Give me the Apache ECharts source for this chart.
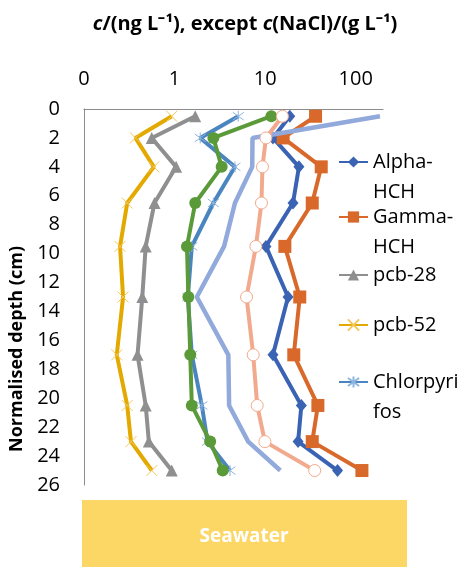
<!DOCTYPE html>
<html>
<head>
<meta charset="utf-8">
<script src="https://cdn.jsdelivr.net/npm/echarts@6/dist/echarts.min.js"></script>
<style>
html,body{margin:0;padding:0;background:#fff;}
#chart{width:464px;height:567px;}
</style>
</head>
<body>
<div id="chart"></div>
<script>
// Normalised depth (cm) of each sample
var depths = [0.5, 2, 4, 6.5, 9.5, 13, 17, 20.5, 23, 25];
// concentrations (ng/L), NaCl in g/L
var alphaHCH = [18.7, 12.2, 23.6, 20.3, 10.2, 17.9, 12.2, 25.1, 23.1, 63];
var gammaHCH = [36, 15.8, 41.6, 33.1, 16.5, 24.1, 20.7, 38.2, 33.1, 117];
var pcb28 = [1.69, 0.56, 1.04, 0.60, 0.48, 0.44, 0.39, 0.48, 0.52, 0.93];
var pcb52 = [0.93, 0.37, 0.59, 0.30, 0.25, 0.27, 0.23, 0.30, 0.33, 0.56];
var chlorpyrifos = [5.05, 1.92, 4.64, 2.68, 1.55, 1.40, 1.55, 2.0, 2.31, 4.09];
var series6 = [11.7, 2.68, 3.31, 1.69, 1.37, 1.42, 1.49, 1.55, 2.47, 3.40];
var series7 = [185, 7.25, 7.2, 4.64, 3.52, 1.76, 3.92, 4.0, 6.5, 14.7];
var nacl = [15.5, 10.2, 9.34, 9.1, 7.9, 6.23, 7.38, 8.17, 9.93, 35.2];

var xTicks = [0.1, 1, 10, 100];
var yTicks = [0, 2, 4, 6, 8, 10, 12, 14, 16, 18, 20, 22, 24, 26];
var legendNames = ['Alpha-HCH', 'Gamma-HCH', 'pcb-28', 'pcb-52', 'Chlorpyrifos'];
var legendLabels = {'Alpha-HCH': 'Alpha-\nHCH', 'Gamma-HCH': 'Gamma-\nHCH', 'pcb-28': 'pcb-28', 'pcb-52': 'pcb-52', 'Chlorpyrifos': 'Chlorpyri\nfos'};

var FONT = '"Open Sans", sans-serif';

function pairs(vals) {
  return vals.map(function (v, i) { return [v, depths[i]]; });
}

function mk(name, vals, color, symbol, size, opts) {
  opts = opts || {};
  return {
    name: name,
    type: 'line',
    data: pairs(vals),
    symbol: symbol,
    symbolSize: size,
    showSymbol: true,
    lineStyle: {color: color, width: opts.width || 4},
    itemStyle: {
      color: opts.fill || color,
      borderColor: opts.border || color,
      borderWidth: opts.borderWidth != null ? opts.borderWidth : 0
    },
    emphasis: {disabled: true},
    z: opts.z || 2
  };
}

var cols = {
  alpha: '#3A63B3', gamma: '#D8692B', pcb28: '#8F8F8F', pcb52: '#E3A900',
  chlor: '#4A85BF', s6: '#5A9A39', s7: '#92A9DC', nacl: '#F2AA8E'
};

var xPath = 'path://M0,0L10,10M10,0L0,10';
var starPath = 'path://M0,0L10,10M10,0L0,10M5,-2L5,12';
var dashPath = 'path://M0,5L10,5';

// icon centre y for each legend entry
var legendIconY = [162, 217, 275, 325, 382];
var legends = legendNames.map(function (n, i) {
  var two = legendLabels[n].indexOf('\n') >= 0;
  return {
    left: 338,
    top: legendIconY[i] - (two ? 45 : 15),
    orient: 'vertical',
    itemWidth: 29,
    itemHeight: 14,
    itemGap: 0,
    padding: 0,
    selectedMode: false,
    data: [n],
    formatter: function (name) {
      var t = legendLabels[name];
      return t.indexOf('\n') >= 0 ? '\u00A0\n' + t : t;
    },
    textStyle: {fontFamily: FONT, fontSize: 20, lineHeight: 30, color: '#000'}
  };
});

var option = {
  animation: false,
  backgroundColor: '#fff',
  title: {
    text: '{i|c}/(ng L\u207B\u00B9), except {i|c}(NaCl)/(g L\u207B\u00B9)',
    left: 240,
    textAlign: 'center',
    top: 9,
    textStyle: {
      fontFamily: FONT, fontSize: 20, fontWeight: 'bold', color: '#000',
      rich: {i: {fontFamily: FONT, fontSize: 20, fontWeight: 'bold', fontStyle: 'italic', color: '#000'}}
    }
  },
  legend: legends,
  grid: {left: 80, right: 81, top: 109, bottom: 82, containLabel: false},
  xAxis: {
    type: 'log',
    logBase: 10,
    position: 'top',
    min: 0.1,
    max: 200,
    axisLine: {show: true, lineStyle: {color: '#8C8C8C', width: 1}},
    axisTick: {show: false},
    splitLine: {show: false},
    axisLabel: {
      fontFamily: FONT, fontSize: 20, color: '#000', margin: 20,
      showMaxLabel: false,
      formatter: function (v) {
        for (var k = 0; k < xTicks.length; k++) {
          if (Math.abs(v - xTicks[k]) / xTicks[k] < 1e-6) return String(Math.round(xTicks[k]));
        }
        return '';
      }
    }
  },
  yAxis: {
    type: 'value',
    inverse: true,
    min: yTicks[0],
    max: yTicks[yTicks.length - 1],
    interval: 2,
    name: 'Normalised depth (cm)',
    nameLocation: 'middle',
    nameGap: 58,
    nameTextStyle: {fontFamily: FONT, fontSize: 18, fontWeight: 'bold', color: '#000', padding: [0, 104, 0, 0]},
    axisLine: {show: true, lineStyle: {color: '#8C8C8C', width: 1}},
    axisTick: {show: false},
    splitLine: {show: false},
    axisLabel: {fontFamily: FONT, fontSize: 20, color: '#000', margin: 24}
  },
  series: [
    mk('Alpha-HCH', alphaHCH, cols.alpha, 'diamond', [11, 13], {z: 2}),
    mk('Gamma-HCH', gammaHCH, cols.gamma, 'rect', 13, {z: 3}),
    mk('pcb-28', pcb28, cols.pcb28, 'triangle', 12, {z: 4}),
    mk('pcb-52', pcb52, cols.pcb52, xPath, 11, {z: 5, fill: 'none', border: '#F3C85A', borderWidth: 1}),
    mk('Chlorpyrifos', chlorpyrifos, cols.chlor, starPath, 11, {z: 6, fill: 'none', border: '#8DB5E0', borderWidth: 1}),
    mk('Series 6', series6, cols.s6, 'circle', 12, {z: 7}),
    mk('Series 7', series7, cols.s7, dashPath, [10, 2], {z: 8, fill: 'none', border: '#A9BCE6', borderWidth: 1.5, width: 4.5}),
    mk('NaCl', nacl, cols.nacl, 'circle', 12, {z: 9, fill: '#fff', border: cols.nacl, borderWidth: 1})
  ],
  graphic: [
    {type: 'rect', left: 82, top: 500, shape: {width: 325, height: 67}, style: {fill: '#FDD766'}, z: 0},
    {type: 'text', x: 244, y: 537, style: {text: 'Seawater', fill: '#fff', font: 'bold 19px "Open Sans", sans-serif', textAlign: 'center', textVerticalAlign: 'middle'}, z: 1}
  ]
};

var chart = echarts.init(document.getElementById('chart'), null, {renderer: 'canvas'});
chart.setOption(option);
</script>
</body>
</html>
